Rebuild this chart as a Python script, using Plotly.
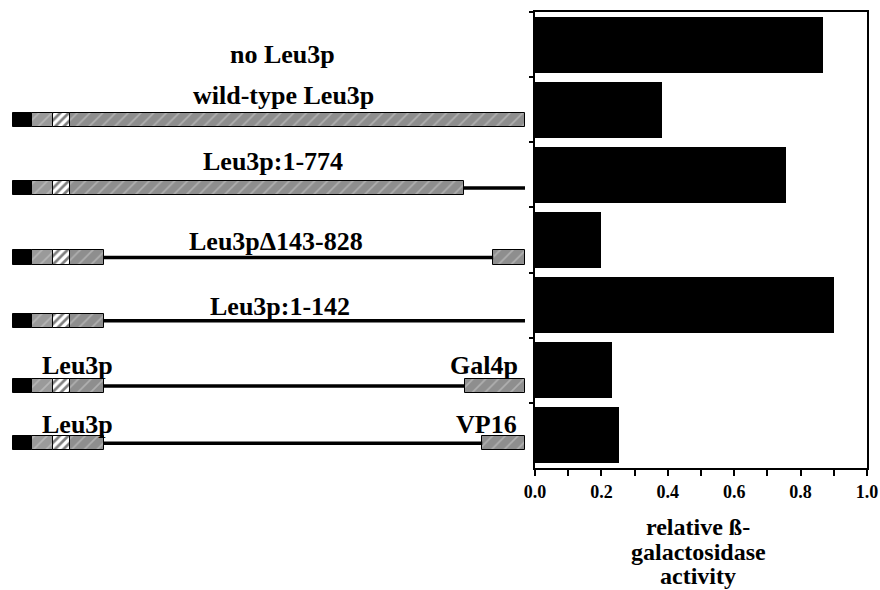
import plotly.graph_objects as go

# ---------------- data ----------------
constructs = ["no Leu3p", "wild-type Leu3p", "Leu3p:1-774", "Leu3p\u0394143-828",
              "Leu3p:1-142", "Leu3p-Gal4p", "Leu3p-VP16"]
activity = [0.867, 0.383, 0.756, 0.198, 0.900, 0.231, 0.252]

x_tickvals = [0.0, 0.1, 0.2, 0.3, 0.4, 0.5, 0.6, 0.7, 0.8, 0.9, 1.0]
x_ticktext = ["0.0", "", "0.2", "", "0.4", "", "0.6", "", "0.8", "", "1.0"]

# protein diagrams (diagram units, full-length Leu3p = 0..886), one row per construct with a diagram
diag_rows = [1, 2, 3, 4, 5, 6]
dbd_start = [0, 0, 0, 0, 0, 0]
dbd_end = [33, 33, 33, 33, 33, 33]
grey1_end = [69, 69, 69, 69, 69, 69]
hatch_end = [99, 99, 99, 99, 99, 99]
grey2_end = [886, 780, 157, 157, 157, 157]
line_end = [None, 886, 831, 886, 782, 812]
tail_end = [None, None, 886, None, 886, 886]

# ---------------- layout helpers ----------------
W, H = 880, 590
def px(x): return x / W
def py(y): return 1 - y / H

ROW_SHIFT = [0.16, 0.20, 0.27, 0.24, 0.24, 0.12]
DIAG_THICK = 0.22
SERIF = "Liberation Serif"

fig = go.Figure()

# main activity bars
fig.add_trace(go.Bar(
    y=constructs, x=activity, orientation="h", width=0.86,
    marker=dict(color="black", line=dict(width=0)),
    xaxis="x", yaxis="y", showlegend=False, hoverinfo="x"))

# diagram segments
ry = [r + s for r, s in zip(diag_rows, ROW_SHIFT)]
grey_pat = dict(shape="/", fgcolor="#d2d2d2", size=9, solidity=0.18, fillmode="overlay")

def seg_bar(starts, ends, rows, color, pattern=None):
    b, l, yy = [], [], []
    for s, e, r in zip(starts, ends, rows):
        if s is None or e is None:
            continue
        b.append(s); l.append(e - s); yy.append(r)
    m = dict(color=color, line=dict(color="black", width=1))
    if pattern:
        m["pattern"] = pattern
    fig.add_trace(go.Bar(base=b, x=l, y=yy, orientation="h", width=DIAG_THICK,
                         marker=m, xaxis="x2", yaxis="y2", showlegend=False,
                         hoverinfo="skip"))

seg_bar(dbd_start, dbd_end, ry, "black")
seg_bar(dbd_end, grey1_end, ry, "#9a9a9a", grey_pat)
seg_bar(grey1_end, hatch_end, ry, "white",
        dict(shape="/", fgcolor="black", size=6, solidity=0.45, fillmode="overlay"))
seg_bar(hatch_end, grey2_end, ry, "#8e8e8e", grey_pat)
seg_bar(line_end, tail_end, ry, "#8e8e8e", grey_pat)

# connecting lines
lx, ly = [], []
for s, e, r in zip(grey2_end, line_end, ry):
    if e is None:
        continue
    lx += [s, e, None]; ly += [r, r, None]
fig.add_trace(go.Scatter(x=lx, y=ly, mode="lines", line=dict(color="black", width=3.5),
                         xaxis="x2", yaxis="y2", showlegend=False, hoverinfo="skip"))

# labels
lab_font = dict(family=SERIF, size=26, color="black", weight="bold")
labels = [
    ("no Leu3p", 282, 55),
    ("wild-type Leu3p", 283, 95),
    ("Leu3p:1-774", 273, 161),
    ("Leu3p\u0394143-828", 276, 241),
    ("Leu3p:1-142", 280, 306),
    ("Leu3p", 77, 365),
    ("Gal4p", 484, 365),
    ("Leu3p", 77, 424),
    ("VP16", 486, 424),
]
annots = []
for t, x, y in labels:
    annots.append(dict(text=t, x=px(x), y=py(y), xref="paper", yref="paper",
                       xanchor="center", yanchor="middle", showarrow=False, font=lab_font))
title_font = dict(family=SERIF, size=24, color="black", weight="bold")
for t, y in [("relative \u00df-", 527), ("galactosidase", 552), ("activity", 576)]:
    annots.append(dict(text=t, x=px(698), y=py(y), xref="paper", yref="paper",
                       xanchor="center", yanchor="middle", showarrow=False, font=title_font,
                       borderpad=0))

ydom = [py(468), py(12)]
fig.update_layout(
    width=W, height=H, margin=dict(l=0, r=0, t=0, b=0, autoexpand=False),
    paper_bgcolor="white", plot_bgcolor="white",
    barmode="overlay", bargap=0,
    xaxis=dict(domain=[px(535), px(867)], range=[0, 1.0], anchor="y", automargin=False,
               tickmode="array", tickvals=x_tickvals, ticktext=x_ticktext,
               ticks="outside", ticklen=6, tickwidth=1.5, tickcolor="black",
               showline=True, linecolor="black", linewidth=2, mirror=True,
               showgrid=False, zeroline=False,
               tickfont=dict(family=SERIF, size=18, color="black", weight="bold")),
    yaxis=dict(domain=ydom, anchor="x", type="category", automargin=False,
               categoryorder="array", categoryarray=constructs, autorange="reversed",
               showticklabels=False, ticks="outside", tickson="boundaries",
               ticklen=4, tickwidth=1.5, tickcolor="black",
               showline=True, linecolor="black", linewidth=2, mirror=True,
               showgrid=False, zeroline=False),
    xaxis2=dict(domain=[0, px(535)], range=[-22.5, 903.3], anchor="y2", visible=False,
                automargin=False),
    yaxis2=dict(domain=ydom, range=[6.5, -0.5], anchor="x2", visible=False,
                automargin=False),
    annotations=annots,
)

fig.write_html("out.html", config={"displayModeBar": False},
               post_script="document.body.style.margin='0px';document.body.style.overflow='hidden';")
